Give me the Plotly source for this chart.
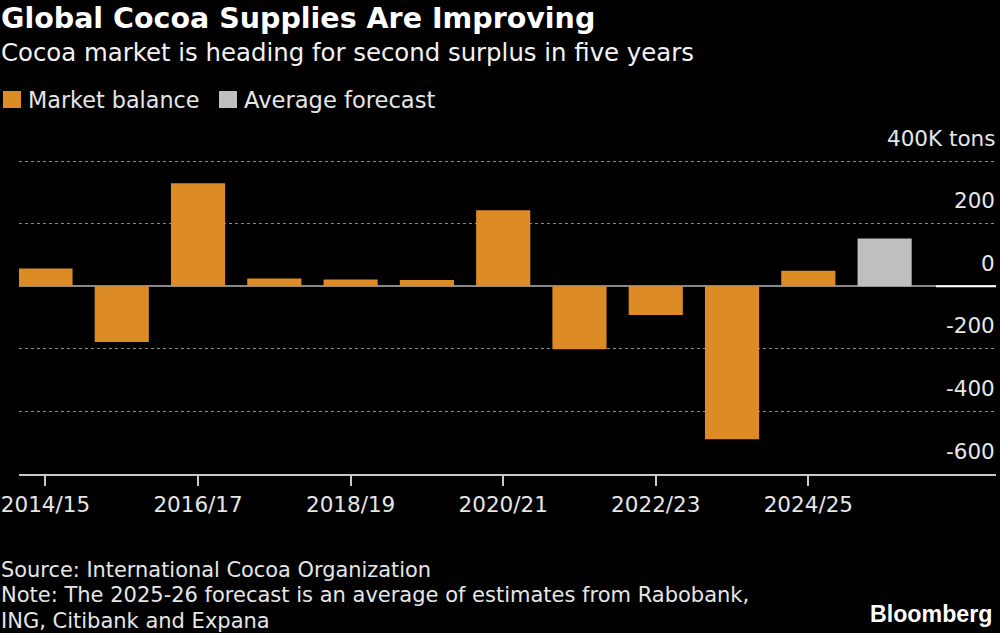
import plotly.graph_objects as go

categories = ["2014/15","2015/16","2016/17","2017/18","2018/19","2019/20","2020/21","2021/22","2022/23","2023/24","2024/25","2025/26"]
market_balance = [57,-178,329,25,22,20,243,-201,-92,-489,50,None]
average_forecast = [None]*11 + [153]
x_ticks = ["2014/15","2016/17","2018/19","2020/21","2022/23","2024/25"]
y_grid = [400,200,0,-200,-400,-600]
y_labels = ["400K tons","200","0","-200","-400","-600"]

ORANGE = "#DC8B25"; GRAY = "#BFBFBF"; TXT = "#E6E6E6"
FONT = "DejaVu Sans"
W, H = 1000, 633
L, R, T, B = 19, 996, 158, 474

fig = go.Figure()
fig.add_bar(x=categories, y=market_balance, name="Market balance", marker_color=ORANGE, marker_line_width=0)
fig.add_bar(x=categories, y=average_forecast, name="Average forecast", marker_color=GRAY, marker_line_width=0)

ann = []
def text(x, y, s, size, color=TXT, weight=None, anchor="left", family=FONT):
    ann.append(dict(xref="paper", yref="paper", x=(x-L)/(R-L), y=(B-y)/(B-T), text=s, showarrow=False,
                    xanchor=anchor, yanchor="middle", align=anchor, borderpad=0,
                    font=dict(family=family, size=size, color=color, weight=weight)))

text(0, 18, "Global Cocoa Supplies Are Improving", 28.5, "#FFFFFF", 700)
text(0, 52, "Cocoa market is heading for second surplus in five years", 24.4, "#F2F2F2")
text(27, 100, "Market balance", 22.3)
text(243, 100, "Average forecast", 22.6)
text(0, 570, "Source: International Cocoa Organization", 20.9)
text(0, 595, "Note: The 2025-26 forecast is an average of estimates from Rabobank,", 21)
text(0, 621, "ING, Citibank and Expana", 21)
text(993, 614, "Bloomberg", 23.2, "#FFFFFF", 700, "right", "Liberation Sans")

for v, s in zip(y_grid, y_labels):
    ann.append(dict(xref="paper", yref="y", x=1, y=v, yshift=23, text=s, showarrow=False, xanchor="right",
                    yanchor="middle", borderpad=0, font=dict(family=FONT, size=21.5, color=TXT)))

shapes = []
def swatch(x0, x1, y0, y1, c):
    shapes.append(dict(type="rect", xref="paper", yref="paper", x0=(x0-L)/(R-L), x1=(x1-L)/(R-L),
                       y0=(B-y1)/(B-T), y1=(B-y0)/(B-T), fillcolor=c, line_width=0, layer="above"))
swatch(3, 21, 91, 108, ORANGE)
swatch(219, 237, 91, 108, GRAY)
shapes.append(dict(type="line", xref="paper", yref="y", x0=(936-L)/(R-L), x1=1, y0=0, y1=0,
                   line=dict(color="#FFFFFF", width=2), layer="above"))

fig.update_layout(
    width=W, height=H, autosize=False,
    paper_bgcolor="#000000", plot_bgcolor="#000000",
    margin=dict(l=L, r=W-R, t=T, b=H-B, pad=0, autoexpand=False),
    barmode="overlay", bargap=0.29, showlegend=False,
    annotations=ann, shapes=shapes,
    xaxis=dict(type="category", categoryorder="array", categoryarray=categories,
               range=[-0.347, 12.46], tickmode="array", tickvals=x_ticks, ticktext=x_ticks,
               ticks="outside", ticklen=10, tickwidth=1.5, tickcolor="#C8C8C8",
               showline=True, linecolor="#C8C8C8", linewidth=1.5, showgrid=False, zeroline=False,
               tickfont=dict(family=FONT, size=21.5, color=TXT)),
    yaxis=dict(range=[-600,410], tickmode="array", tickvals=y_grid, showticklabels=False,
               showgrid=True, gridcolor="#8a8a8a", griddash="dot", gridwidth=1.2,
               zeroline=True, zerolinecolor="#888888", zerolinewidth=1.5, showline=False),
)
fig.write_html("out.html", config={"displayModeBar": False},
    post_script="document.body.style.margin='0';document.body.style.background='#000';document.documentElement.style.overflow='hidden';")
